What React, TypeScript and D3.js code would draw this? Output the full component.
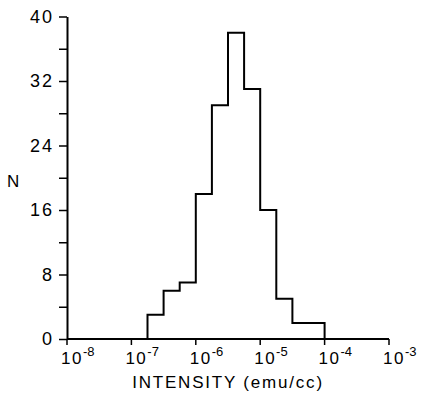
import React, { useEffect, useRef } from "react";
import * as d3 from "d3";

// histogram bins, quarter-decade wide (log10 of left edge)
const binStarts = [-6.75, -6.5, -6.25, -6.0, -5.75, -5.5, -5.25, -5.0, -4.75, -4.5, -4.25];
const binCounts = [3, 6, 7, 18, 29, 38, 31, 16, 5, 2, 2];
const binWidth = 0.25;

const xExponents = [-8, -7, -6, -5, -4, -3];
const yTicks = [0, 4, 8, 12, 16, 20, 24, 28, 32, 36, 40];
const yLabels = [0, 8, 16, 24, 32, 40];

const FONT = "'Liberation Sans', Arial, sans-serif";

export default function App() {
  const ref = useRef<SVGSVGElement>(null);

  useEffect(() => {
    const svg = d3.select(ref.current);
    svg.selectAll("*").remove();

    const x = d3.scaleLog().domain([1e-8, 1e-3]).range([67, 389]);
    const y = d3.scaleLinear().domain([0, 40]).range([339, 16.5]);

    // y axis
    const yAxis = svg
      .append("g")
      .attr("transform", `translate(${x(1e-8)},0)`)
      .call(
        d3
          .axisLeft(y)
          .tickValues(yTicks)
          .tickSize(8)
          .tickPadding(5)
          .tickSizeOuter(0)
          .tickFormat((d) => (yLabels.includes(+d) ? String(d) : ""))
      );
    yAxis.select(".domain").attr("stroke-width", 2);
    yAxis.selectAll(".tick line").attr("stroke-width", 1.5);
    yAxis
      .selectAll(".tick text")
      .attr("font-family", FONT)
      .attr("font-size", 18)
      .attr("letter-spacing", 2)
      .attr("fill", "#000");

    // x axis
    svg
      .append("line")
      .attr("x1", x(1e-8))
      .attr("x2", x(1e-3))
      .attr("y1", y(0))
      .attr("y2", y(0))
      .attr("stroke", "#000")
      .attr("stroke-width", 2);

    const xt = svg
      .selectAll(".xtick")
      .data(xExponents)
      .enter()
      .append("g")
      .attr("transform", (d) => `translate(${x(Math.pow(10, d))},${y(0)})`);
    xt.append("line").attr("y1", 0).attr("y2", 6).attr("stroke", "#000").attr("stroke-width", 1.5);
    const lbl = xt
      .append("text")
      .attr("x", -6)
      .attr("y", 25)
      .attr("font-family", FONT)
      .attr("font-size", 17)
      .attr("fill", "#000");
    lbl.append("tspan").attr("letter-spacing", 1.5).text("10");
    lbl
      .append("tspan")
      .attr("dy", -8)
      .attr("font-size", 13)
      .text((d) => `-${Math.abs(d)}`);

    // histogram outline
    const pts: [number, number][] = [];
    pts.push([binStarts[0], 0]);
    binStarts.forEach((s, i) => {
      pts.push([s, binCounts[i]]);
      pts.push([s + binWidth, binCounts[i]]);
    });
    pts.push([binStarts[binStarts.length - 1] + binWidth, 0]);

    const line = d3
      .line<[number, number]>()
      .x((d) => x(Math.pow(10, d[0])))
      .y((d) => y(d[1]));

    svg
      .append("path")
      .attr("d", line(pts))
      .attr("fill", "none")
      .attr("stroke", "#000")
      .attr("stroke-width", 2);

    // axis titles
    svg
      .append("text")
      .attr("x", 228)
      .attr("y", 388)
      .attr("text-anchor", "middle")
      .attr("font-family", FONT)
      .attr("font-size", 17)
      .attr("letter-spacing", 1.8)
      .attr("fill", "#000")
      .text("INTENSITY (emu/cc)");

    svg
      .append("text")
      .attr("x", 7)
      .attr("y", 187)
      .attr("font-family", FONT)
      .attr("font-size", 17)
      .attr("fill", "#000")
      .text("N");
  }, []);

  return (
    <svg
      ref={ref}
      width={422}
      height={394}
      style={{ position: "absolute", left: 0, top: 0, background: "#fff" }}
    ></svg>
  );
}
